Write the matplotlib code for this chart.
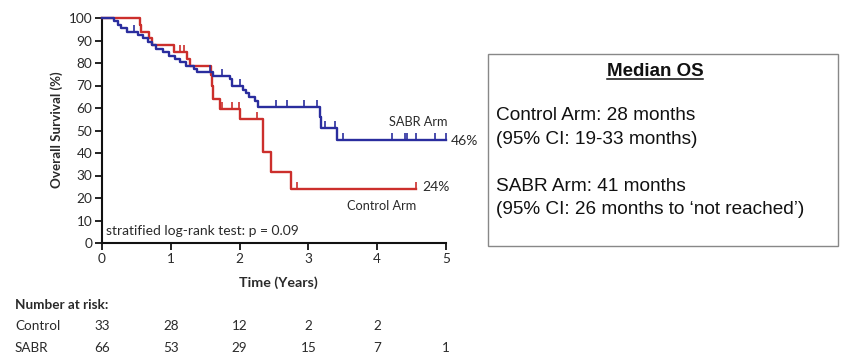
import numpy as np
import matplotlib
matplotlib.use("Agg")
import matplotlib.pyplot as plt
from matplotlib.lines import Line2D
from matplotlib.patches import Rectangle
import matplotlib.transforms as mtransforms

# ---- data ----
sabr_times = [0, 0.18, 0.23, 0.28, 0.36, 0.52, 0.60, 0.67, 0.72, 0.79, 0.89, 0.98, 1.06,
              1.13, 1.22, 1.33, 1.38, 1.62, 1.86, 1.89, 2.05, 2.10, 2.13, 2.22, 2.27,
              3.17, 3.19, 3.41]
sabr_surv = [100, 98.5, 97.0, 95.5, 93.9, 92.4, 90.9, 89.4, 87.9, 86.4, 84.8, 83.3, 81.8,
             80.3, 78.8, 77.3, 75.8, 74.2, 72.7, 69.6, 68.0, 66.5, 64.9, 63.3, 60.6,
             55.8, 51.0, 46.0]
sabr_end = 5.0
sabr_censor = [0.46, 1.57, 1.74, 2.0, 2.53, 2.69, 2.94, 3.12, 3.24, 3.39, 3.51,
               4.21, 4.40, 4.44, 4.56, 4.84, 5.0]

control_times = [0, 0.55, 0.57, 0.69, 0.72, 1.05, 1.23, 1.28, 1.58, 1.60, 1.62, 1.72,
                 2.00, 2.34, 2.46, 2.75]
control_surv = [100, 97, 94, 91, 88, 85, 81.8, 78.6, 74.5, 70, 63.8, 59.5,
                55, 40.5, 31.7, 24]
control_end = 4.57
control_censor = [1.14, 1.19, 1.74, 1.89, 1.99, 2.25, 2.83, 4.57]

x_ticks = [0, 1, 2, 3, 4, 5]
y_ticks = [0, 10, 20, 30, 40, 50, 60, 70, 80, 90, 100]
risk_control = ["33", "28", "12", "2", "2", ""]
risk_sabr = ["66", "53", "29", "15", "7", "1"]

box_title = "Median OS"
box_lines = ["Control Arm: 28 months", "(95% CI: 19-33 months)", "",
             "SABR Arm: 41 months", "(95% CI: 26 months to \u2018not reached\u2019)"]

BLUE = "#2a2d9e"
RED = "#cc2f2c"
FONT = "Lato"

W, H = 855, 360
fig = plt.figure(figsize=(W / 100, H / 100), dpi=100)
fig.patch.set_facecolor("white")


def fx(px):
    return px / W


def fy(py):
    return 1 - py / H


ax = fig.add_axes([fx(102), fy(243), fx(446) - fx(102), fy(18) - fy(243)])
ax.set_xlim(0, 5)
ax.set_ylim(0, 100)
for s in ["top", "right"]:
    ax.spines[s].set_visible(False)
for s in ["left", "bottom"]:
    ax.spines[s].set_linewidth(1.5)
    ax.spines[s].set_color("#111111")
ax.set_xticks(x_ticks)
ax.set_yticks(y_ticks)
ax.tick_params(axis="both", direction="out", length=5, width=1.3, labelsize=9.8,
               colors="#111111", pad=2)
for lab in ax.get_xticklabels() + ax.get_yticklabels():
    lab.set_fontfamily(FONT)
    lab.set_color("#2a2a2a")


def km(ax, times, surv, end, censor, color):
    t = list(times) + [end]
    s = list(surv) + [surv[-1]]
    ax.step(t, s, where="post", color=color, lw=1.7, clip_on=False, zorder=3)
    ct = np.array(censor)
    idx = np.searchsorted(np.array(times), ct, side="right") - 1
    cs = np.array(surv)[idx]
    ax.plot(ct, cs, linestyle="none", marker=2, markersize=5, markeredgewidth=1.2,
            color=color, clip_on=False, zorder=4)


km(ax, control_times, control_surv, control_end, control_censor, RED)
km(ax, sabr_times, sabr_surv, sabr_end, sabr_censor, BLUE)

txtc = "#2a2a2a"
fig.text(fx(389), fy(122), "SABR Arm", fontsize=9.2, family=FONT, color=txtc, va="center", ha="left")
fig.text(fx(451), fy(141), "46%", fontsize=10, family=FONT, color=txtc, va="center", ha="left")
fig.text(fx(422), fy(187), "24%", fontsize=10, family=FONT, color=txtc, va="center", ha="left")
fig.text(fx(347), fy(206), "Control Arm", fontsize=9.2, family=FONT, color=txtc, va="center", ha="left")
fig.text(fx(106), fy(231), "stratified log-rank test: p = 0.09", fontsize=10, family=FONT,
         color=txtc, va="center", ha="left")

fig.text(fx(57), fy(130), "Overall Survival (%)", fontsize=9.6, family=FONT, fontweight="bold",
         color=txtc, rotation=90, va="center", ha="center")
fig.text(fx(278), fy(283), "Time (Years)", fontsize=10.3, family=FONT, fontweight="bold",
         color=txtc, va="center", ha="center")

# number at risk table
fig.text(fx(15), fy(305), "Number at risk:", fontsize=9.7, family=FONT, fontweight="bold",
         color=txtc, va="center", ha="left")
fig.text(fx(15), fy(326), "Control", fontsize=9.7, family=FONT, color=txtc, va="center", ha="left")
fig.text(fx(15), fy(348), "SABR", fontsize=9.7, family=FONT, color=txtc, va="center", ha="left")
trans = mtransforms.blended_transform_factory(ax.transData, fig.transFigure)
for xv, c, s in zip(x_ticks, risk_control, risk_sabr):
    ax.text(xv, fy(326), c, transform=trans, fontsize=9.7, family=FONT, color=txtc,
            ha="center", va="center", clip_on=False)
    ax.text(xv, fy(348), s, transform=trans, fontsize=9.7, family=FONT, color=txtc,
            ha="center", va="center", clip_on=False)

# median OS box
fig.patches.append(Rectangle((fx(488), fy(246)), fx(838) - fx(488), fy(54) - fy(246),
                             transform=fig.transFigure, fill=False, edgecolor="#888888",
                             lw=1.0))
BOXFONT = "Liberation Sans"
title = fig.text(fx(655), fy(72), box_title, fontsize=13.5, family=BOXFONT, fontweight="bold",
                 color="#111111", ha="center", va="center")
ys = [116, 139, 162, 186, 209]
for line, yy in zip(box_lines, ys):
    if line:
        fig.text(fx(496), fy(yy), line, fontsize=13.7, family=BOXFONT, color="#111111",
                 ha="left", va="center")

fig.canvas.draw()
bb = title.get_window_extent().transformed(fig.transFigure.inverted())
fig.lines.append(Line2D([bb.x0, bb.x1], [bb.y0 + 0.003, bb.y0 + 0.003],
                        transform=fig.transFigure, color="#111111", lw=1.1))

fig.savefig("out.png", dpi=100, facecolor="white")
